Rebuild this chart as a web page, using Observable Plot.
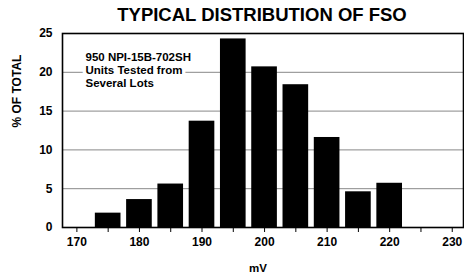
<!DOCTYPE html>
<html><head><meta charset="utf-8">
<script src="https://cdn.jsdelivr.net/npm/d3@7"></script>
<script src="https://cdn.jsdelivr.net/npm/@observablehq/plot@0.6"></script>
<style>
html,body{margin:0;padding:0;background:#fff;}
svg{font-family:"Liberation Sans",Arial,sans-serif;}
</style></head><body>
<div id="chart"></div>
<script>
const mv = [175, 180, 185, 190, 195, 200, 205, 210, 215, 220];
const pct = [1.85, 3.6, 5.6, 13.7, 24.3, 20.7, 18.4, 11.6, 4.6, 5.7];
const xTicks = [170, 175, 180, 185, 190, 195, 200, 205, 210, 215, 220, 225, 230];
const yTicks = [0, 5, 10, 15, 20, 25];
const gridVals = [5, 10, 15, 20];
const title = "TYPICAL DISTRIBUTION OF FSO";
const note = "950 NPI-15B-702SH\nUnits Tested from\nSeveral Lots";
const yLabel = "% OF TOTAL";
const xLabel = "mV";

const data = mv.map((m, i) => ({mv: m, pct: pct[i]}));

const chart = Plot.plot({
  width: 464,
  height: 277,
  marginTop: 33,
  marginBottom: 50,
  marginLeft: 62,
  marginRight: 1,
  style: {fontFamily: "Liberation Sans, Arial, sans-serif", background: "#fff"},
  x: {domain: [167.7, 231.8]},
  y: {domain: [0, 25]},
  marks: [
    Plot.ruleY(gridVals, {stroke: "#888", strokeWidth: 1}),
    Plot.text([note], {frameAnchor: "top-left", dx: 23, dy: 18, lineAnchor: "top", lineHeight: 1.14,
      text: d => d, fontSize: 11.5, fontWeight: "bold", fill: "#000", stroke: "white", strokeWidth: 7, textAnchor: "start"}),
    Plot.rectY(data, {x1: d => d.mv - 2.05, x2: d => d.mv + 2.05, y: "pct", fill: "#000"}),
    Plot.frame({stroke: "#000", strokeWidth: 1.6}),
    Plot.axisX(xTicks, {tickSize: 5, tickPadding: 5, fontSize: 12, fontWeight: "bold",
      tickFormat: d => d % 10 === 0 ? d : "", label: null, stroke: "#000"}),
    Plot.axisY(yTicks, {tickSize: 0, tickPadding: 10, fontSize: 12, fontWeight: "bold", label: null}),
    Plot.text([title], {frameAnchor: "top", lineAnchor: "middle", dy: -18, dx: -1, text: d => d, fontSize: 18.5, fontWeight: "bold", fill: "#000"}),
    Plot.text([xLabel], {frameAnchor: "bottom", lineAnchor: "middle", dy: 41, dx: -5, text: d => d, fontSize: 11.5, fontWeight: "bold", fill: "#000"}),
    Plot.text([yLabel], {frameAnchor: "left", dx: -45, dy: -3, rotate: -90, text: d => d, fontSize: 12, fontWeight: "bold", fill: "#000"})
  ]
});
document.getElementById("chart").appendChild(chart);
</script>
</body></html>
